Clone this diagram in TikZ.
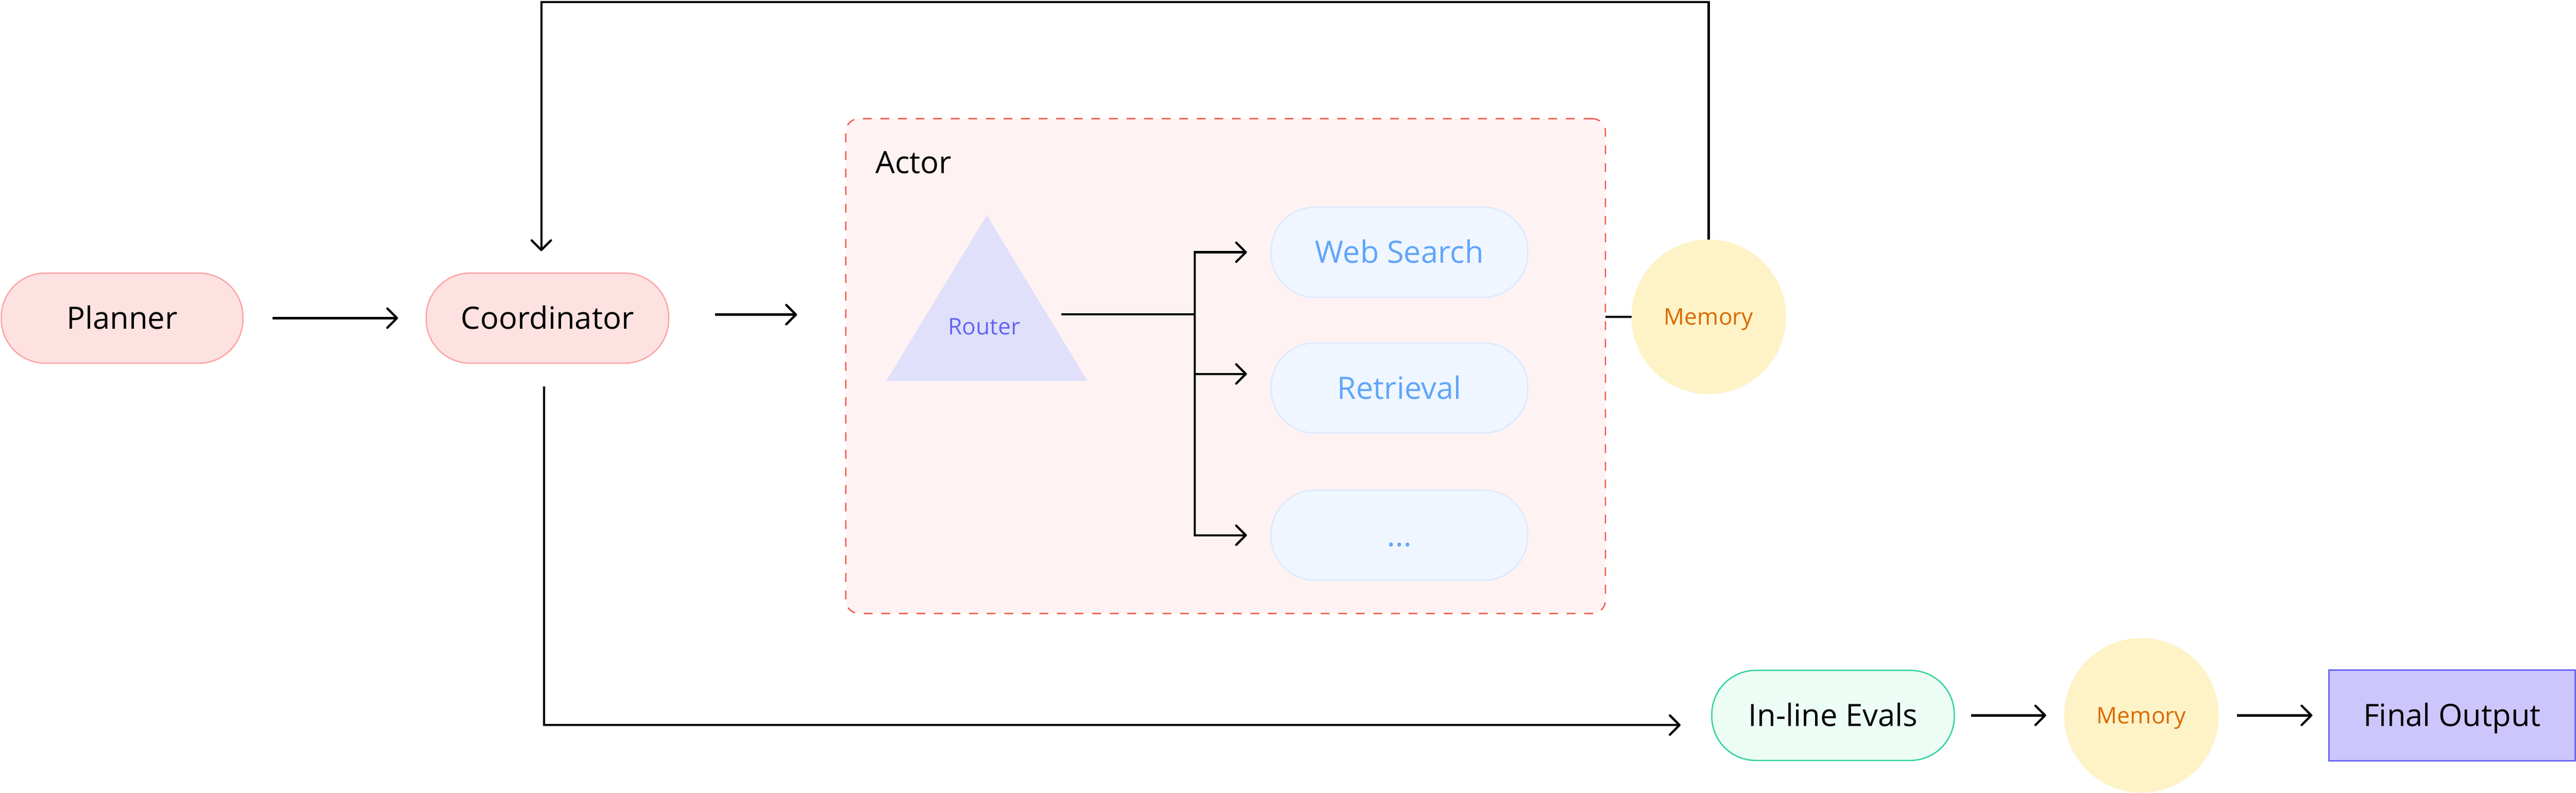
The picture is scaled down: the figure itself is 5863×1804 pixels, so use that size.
\documentclass[tikz,border=0pt]{standalone}
\usepackage{fontspec}
\setmainfont{Open Sans}
\usetikzlibrary{arrows.meta,calc}
\definecolor{plfill}{HTML}{FEE2E2}
\definecolor{plborder}{HTML}{FCA5A5}
\definecolor{actorfill}{HTML}{FEF2F2}
\definecolor{actorborder}{HTML}{F05A50}
\definecolor{routerfill}{HTML}{E0E0FB}
\definecolor{routertext}{HTML}{6366F1}
\definecolor{toolfill}{HTML}{EFF6FF}
\definecolor{toolborder}{HTML}{DBEAFE}
\definecolor{tooltext}{HTML}{60A5FA}
\definecolor{memfill}{HTML}{FEF3C7}
\definecolor{memtext}{HTML}{D96A00}
\definecolor{evfill}{HTML}{ECFDF5}
\definecolor{evborder}{HTML}{34D399}
\definecolor{finfill}{HTML}{CCC6FD}
\definecolor{finborder}{HTML}{6B68F6}
\tikzset{
  base/.style={inner sep=0pt, outer sep=0pt, align=center},
  big/.style={font=\fontsize{70}{84}\selectfont, text height=50pt, text depth=0pt},
  small/.style={font=\fontsize{52}{62}\selectfont, text height=37pt, text depth=0pt},
  pill/.style={base, big, rectangle, rounded corners=100pt, minimum height=205pt, line width=3pt},
  conn/.style={line width=5pt, draw=black},
  arr/.style={conn, -{Straight Barb[length=22pt,width=44pt,round]}},
  mem/.style={base, small, circle, minimum size=352pt, fill=memfill, text=memtext},
  actorbox/.style={rectangle, draw=actorborder, fill=actorfill, line width=3pt,
    dash pattern=on 20pt off 20pt, rounded corners=30pt,
    minimum width=1729pt, minimum height=1126pt, inner sep=0pt, outer sep=0pt},
}
\begin{document}
\begin{tikzpicture}[x=1pt,y=-1pt]
\useasboundingbox (0,0) rectangle (5863,1804);

% Actor container
\node[actorbox] (actor) at (2789.5,833) {};
\node[base, big, anchor=west] (actorlabel) at (1993,369) {Actor};

% Router triangle
\coordinate (tA) at (2246,490);
\coordinate (tB) at (2017,867);
\coordinate (tC) at (2475,867);
\fill[routerfill] (tA) -- (tB) -- (tC) -- cycle;
\node[base, small, text=routertext] (router) at (2240,743) {Router};

% Main nodes
\node[pill, fill=plfill, draw=plborder, minimum width=550pt] (planner) at (278,724) {Planner};
\node[pill, fill=plfill, draw=plborder, minimum width=552pt] (coord) at (1246,724) {Coordinator};
\node[pill, fill=toolfill, draw=toolborder, text=tooltext, minimum width=584pt] (web) at (3185,574) {Web Search};
\node[pill, fill=toolfill, draw=toolborder, text=tooltext, minimum width=584pt] (retr) at (3185,883) {Retrieval};
\node[pill, fill=toolfill, draw=toolborder, text=tooltext, minimum width=584pt] (dots) at (3185,1218) {...};
\node[pill, fill=evfill, draw=evborder, minimum width=552pt] (evals) at (4172,1628) {In-line Evals};
\node[mem] (mem1) at (3889,721) {Memory};
\node[mem] (mem2) at (4874,1628) {Memory};
\node[base, big, rectangle, fill=finfill, draw=finborder, line width=3pt,
      minimum width=560pt, minimum height=206pt] (final) at (5581,1628) {Final Output};

% Connectors
\draw[arr] ([xshift=67pt]planner.east) -- ([xshift=-64pt]coord.west);
\coordinate (actIn) at (actor.west |- coord.east);
\draw[arr] ([xshift=105pt,yshift=8pt]coord.east) -- ([xshift=-111pt,yshift=8pt]actIn);

% Router fan-out
\coordinate (routerR) at (2416,715);
\coordinate (jn) at (2719,715);
\coordinate (jt) at (jn |- web.west);
\coordinate (jb) at (jn |- dots.west);
\coordinate (jm) at ($(jn |- retr.west)+(0,-32)$);
\draw[conn] (routerR) -- (jn);
\draw[arr] (jt) -- (jb) -- ([xshift=-55pt]dots.west);
\draw[arr] (jb) -- (jt) -- ([xshift=-55pt]web.west);
\draw[arr] (jm) -- ([xshift=-55pt,yshift=32pt]retr.west);

% Actor to memory
\draw[conn] (mem1.west) -- (mem1.west -| actor.east);

% Feedback loop from memory to coordinator
\coordinate (topleft) at (1232,4.5);
\draw[arr] (mem1.north) |- (topleft) -- ([yshift=50pt]topleft |- coord.north);

% Coordinator down to evals
\coordinate (evIn) at ([xshift=-71pt,yshift=-22pt]evals.west);
\draw[arr] ([xshift=-8pt,yshift=-53pt]coord.south) |- (evIn);

% Bottom chain
\draw[arr] ([xshift=38pt]evals.east) -- ([xshift=-41pt]mem2.west);
\draw[arr] ([xshift=41pt]mem2.east) -- ([xshift=-38pt]final.west);
\end{tikzpicture}
\end{document}
